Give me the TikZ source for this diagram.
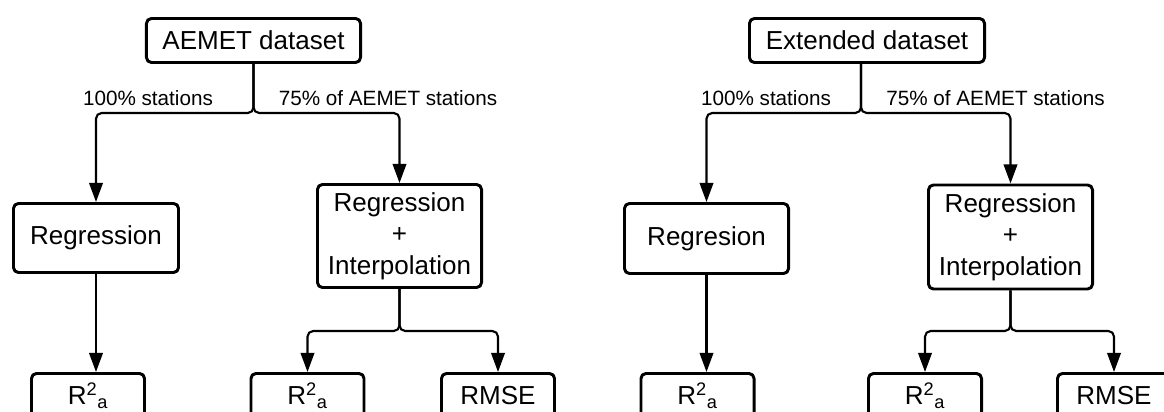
\documentclass[tikz,border=0pt]{standalone}
\usepackage{fontspec}
\setmainfont{Liberation Sans}
\usetikzlibrary{arrows.meta}

\begin{document}
\begin{tikzpicture}[x=0.025cm,y=-0.025cm,line join=round,
  box/.style={draw,line width=2.1pt,rounded corners=3.5pt,align=center,inner sep=0pt,font=\fontsize{18.5}{22.5}\selectfont},
  small box/.style={box,minimum width=2.825cm,minimum height=1.1cm}]
\tikzstyle{flow} = [draw,line width=1.5pt,rounded corners=4pt,-{Triangle[length=0.48cm,width=0.34cm]}]
\tikzstyle{branch label} = [inner sep=0pt,font=\fontsize{14.7}{17}\selectfont]

\useasboundingbox (0,0) rectangle (1164,412);

% AEMET dataset
\node[box,minimum width=5.35cm,minimum height=1.1cm] (aemet) at (253.5,40.5) {AEMET dataset};
\node[box,minimum width=4.125cm,minimum height=1.725cm] (reg) at (96,238) {Regression};
\node[box,minimum width=4.1cm,minimum height=2.575cm] (regint) at (399.5,236) {Regression\\+\\Interpolation};
\node[small box] (rsq) at (88,395.5) {R\textsuperscript{2}\textsubscript{a}};
\node[small box] (rsqint) at (307.5,395.5) {R\textsuperscript{2}\textsubscript{a}};
\node[small box] (rmse) at (498,395.5) {RMSE};

\coordinate (split) at (253.5,113);
\coordinate (splitint) at (399.5,331);
\node[branch label] (all) at (148,98) {100\% stations};
\node[branch label] (part) at (388,98) {75\% of AEMET stations};

\draw[flow] (aemet.south) -- (split) -| (reg.north);
\draw[flow] (aemet.south) -- (split) -| (regint.north);
\draw[flow] (reg.south) -- (reg.south |- rsq.north);
\draw[flow] (regint.south) -- (splitint) -| (rsqint.north);
\draw[flow] (regint.south) -- (splitint) -| (rmse.north);

% Extended dataset
\node[box,minimum width=5.875cm,minimum height=1.1cm] (ext) at (867,40.5) {Extended dataset};
\node[box,minimum width=4.1cm,minimum height=1.75cm] (extreg) at (706.5,238.5) {Regresion};
\node[box,minimum width=4.1cm,minimum height=2.6cm] (extregint) at (1010.5,237) {Regression\\+\\Interpolation};
\node[small box] (extrsq) at (697.5,395.5) {R\textsuperscript{2}\textsubscript{a}};
\node[small box] (extrsqint) at (925,395.5) {R\textsuperscript{2}\textsubscript{a}};
\node[small box] (extrmse) at (1114,395.5) {RMSE};

\coordinate (extsplit) at (861,113);
\coordinate (extsplitint) at (1010.5,331);
\node[branch label] (extall) at (766,98) {100\% stations};
\node[branch label] (extpart) at (995.5,98) {75\% of AEMET stations};

\draw[flow] (extsplit |- ext.south) -- (extsplit) -| (extreg.north);
\draw[flow] (extsplit |- ext.south) -- (extsplit) -| (extregint.north);
\draw[flow] (extreg.south) -- (extreg.south |- extrsq.north);
\draw[flow] (extregint.south) -- (extsplitint) -| (extrsqint.north);
\draw[flow] (extregint.south) -- (extsplitint) -| (extrmse.north);

\end{tikzpicture}
\end{document}
